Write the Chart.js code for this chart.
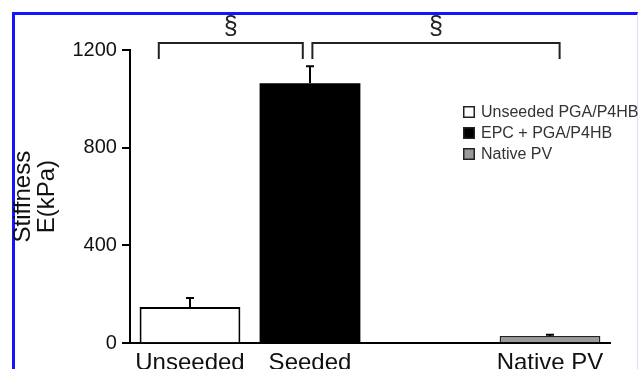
<!DOCTYPE html>
<html>
<head>
<meta charset="utf-8">
<script src="https://cdn.jsdelivr.net/npm/chart.js@4/dist/chart.umd.min.js"></script>
<style>
  html, body { margin: 0; padding: 0; background: #fff; overflow: hidden; }
  #wrap { position: relative; width: 639px; height: 369px; overflow: hidden; }
  #frame {
    position: absolute; left: 12px; top: 12px; width: 622px; height: 400px;
    border-left: 3px solid #1414ff; border-top: 3px solid #1414ff;
    border-right: 1px solid #dcdcff;
  }
  canvas { position: absolute; left: 0; top: 0; }
</style>
</head>
<body>
<div id="wrap">
  <div id="frame"></div>
  <canvas id="chart" width="639" height="399"></canvas>
</div>
<script>
  // categories along x (third slot is intentionally empty)
  const categories = ["Unseeded", "Seeded", "", "Native PV"];

  // mean stiffness, kPa
  const unseeded = [148, null, null, null];
  const seeded   = [null, 1064, null, null];
  const nativePV = [null, null, null, 29];

  // upper error bar (SD), kPa
  const unseededErr = [37, null, null, null];
  const seededErr   = [null, 70, null, null];
  const nativeErr   = [null, null, null, 6];

  const seriesLabels = ["Unseeded PGA/P4HB", "EPC + PGA/P4HB", "Native PV"];

  const yTicks = [0, 400, 800, 1200];

  // significance brackets: [from category, to category, level kPa, drop kPa]
  const bracketFrom  = [-0.26, 1.02];
  const bracketTo    = [0.94, 3.08];
  const bracketLevel = [1229, 1229];
  const bracketDrop  = [1163, 1163];
  const bracketMark  = ["§", "§"];

  const FONT = "'Liberation Sans', Arial, Helvetica, sans-serif";

  const errorBars = {
    id: "errorBars",
    afterDatasetsDraw(chart) {
      const { ctx, scales: { y } } = chart;
      const errs = [unseededErr, seededErr, nativeErr];
      ctx.save();
      ctx.strokeStyle = "#000";
      ctx.lineWidth = 2;
      chart.data.datasets.forEach((ds, di) => {
        const meta = chart.getDatasetMeta(di);
        ds.data.forEach((v, i) => {
          if (v == null || errs[di][i] == null) return;
          const bar = meta.data[i];
          const top = y.getPixelForValue(v + errs[di][i]);
          ctx.beginPath();
          ctx.moveTo(bar.x, bar.y);
          ctx.lineTo(bar.x, top);
          ctx.moveTo(bar.x - 4, top);
          ctx.lineTo(bar.x + 4, top);
          ctx.stroke();
        });
      });
      ctx.restore();
    },
  };

  const brackets = {
    id: "brackets",
    afterDraw(chart) {
      const { ctx, scales: { x, y } } = chart;
      ctx.save();
      ctx.strokeStyle = "#222";
      ctx.lineWidth = 2;
      ctx.fillStyle = "#222";
      ctx.font = "25px " + FONT;
      ctx.textAlign = "center";
      ctx.textBaseline = "middle";
      bracketFrom.forEach((f, i) => {
        const x1 = x.getPixelForValue(f);
        const x2 = x.getPixelForValue(bracketTo[i]);
        const yl = y.getPixelForValue(bracketLevel[i]);
        const yd = y.getPixelForValue(bracketDrop[i]);
        ctx.beginPath();
        ctx.moveTo(x1, yd);
        ctx.lineTo(x1, yl);
        ctx.lineTo(x2, yl);
        ctx.lineTo(x2, yd);
        ctx.stroke();
        ctx.fillText(bracketMark[i], (x1 + x2) / 2, yl - 16);
      });
      ctx.restore();
    },
  };

  const boxLegend = {
    id: "boxLegend",
    afterDraw(chart, args, opts) {
      const { ctx } = chart;
      ctx.save();
      ctx.font = "16px " + FONT;
      ctx.textBaseline = "middle";
      chart.data.datasets.forEach((ds, i) => {
        const cy = opts.top + i * opts.rowGap;
        ctx.fillStyle = ds.backgroundColor;
        ctx.fillRect(opts.left, cy - 6, 12, 12);
        ctx.strokeStyle = "#222";
        ctx.lineWidth = 1.5;
        ctx.strokeRect(opts.left + 0.75, cy - 5.25, 10.5, 10.5);
        ctx.fillStyle = "#333";
        ctx.fillText(ds.label, opts.left + 18, cy + 1);
      });
      ctx.restore();
    },
  };

  new Chart(document.getElementById("chart"), {
    type: "bar",
    data: {
      labels: categories,
      datasets: [
        { label: seriesLabels[0], data: unseeded, backgroundColor: "#ffffff", borderColor: "#000", borderWidth: 2 },
        { label: seriesLabels[1], data: seeded,   backgroundColor: "#000000", borderColor: "#000", borderWidth: 0 },
        { label: seriesLabels[2], data: nativePV, backgroundColor: "#9a9a9a", borderColor: "#222", borderWidth: 1.5 },
      ],
    },
    options: {
      responsive: false,
      animation: false,
      devicePixelRatio: 1,
      layout: { padding: { top: 50, right: 29, bottom: 23, left: 0 } },
      datasets: { bar: { grouped: false, categoryPercentage: 1, barPercentage: 0.84, borderSkipped: "bottom" } },
      plugins: {
        legend: { display: false },
        tooltip: { enabled: false },
        boxLegend: { left: 463, top: 112, rowGap: 21 },
      },
      scales: {
        x: {
          grid: { display: false },
          border: { display: true, color: "#000", width: 2 },
          ticks: { color: "#111", font: { family: FONT, size: 24 }, padding: -2, maxRotation: 0, autoSkip: false },
        },
        y: {
          min: 0,
          max: 1200,
          afterBuildTicks: (axis) => { axis.ticks = yTicks.map((v) => ({ value: v })); },
          grid: { display: true, drawOnChartArea: false, drawTicks: true, tickLength: 8, color: "#000", lineWidth: 2 },
          border: { display: true, color: "#000", width: 2 },
          ticks: { color: "#111", font: { family: FONT, size: 20 }, padding: 5, callback: (v) => String(v) },
          title: {
            display: true,
            text: ["Stiffness", "E(kPa)"],
            color: "#111",
            font: { family: FONT, size: 24, lineHeight: 1 },
            padding: { top: 11, bottom: 8.5 },
          },
        },
      },
    },
    plugins: [errorBars, brackets, boxLegend],
  });
</script>
</body>
</html>
